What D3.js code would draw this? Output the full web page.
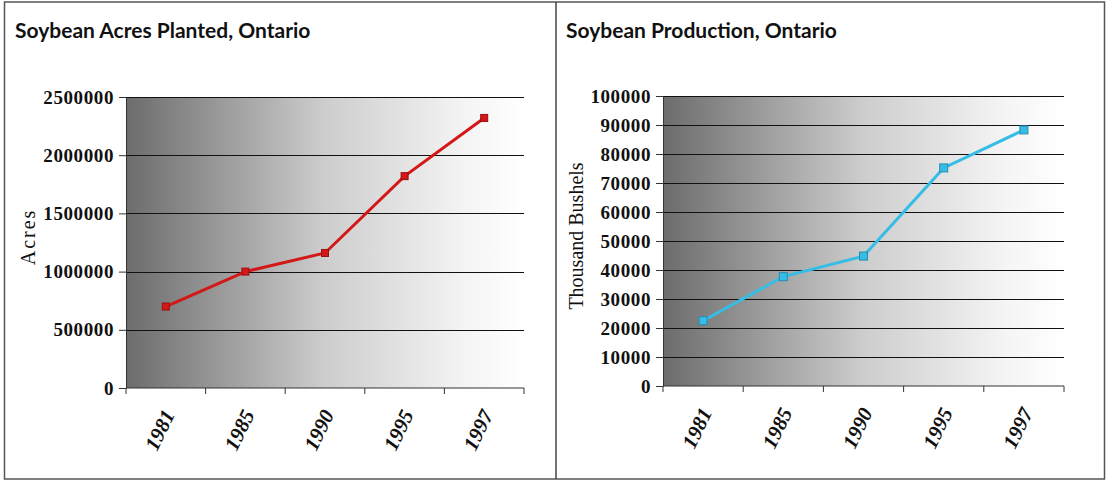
<!DOCTYPE html>
<html>
<head>
<meta charset="utf-8">
<script src="https://cdn.jsdelivr.net/npm/d3@7"></script>
<style>
  body { margin: 0; background: #fff; }
  .tick text { font-family: "Liberation Serif", serif; }
</style>
</head>
<body>
<div id="chart"></div>
<script>
// data
var years = ["1981", "1985", "1990", "1995", "1997"];
var acresPlanted = [700000, 1000000, 1160000, 1820000, 2320000];
var productionBushels = [22500, 37700, 44800, 75200, 88300];
var acresTicks = [0, 500000, 1000000, 1500000, 2000000, 2500000];
var productionTicks = [0, 10000, 20000, 30000, 40000, 50000, 60000, 70000, 80000, 90000, 100000];

var svgWidth = 1107;
var svgHeight = 481;

var svg = d3.select("#chart")
  .append("svg")
  .attr("width", svgWidth)
  .attr("height", svgHeight);

// shared gray gradient for both plot areas
var defs = svg.append("defs");
var grad = defs.append("linearGradient")
  .attr("id", "plotFill")
  .attr("x1", "0%").attr("x2", "100%")
  .attr("y1", "0%").attr("y2", "0%");
grad.append("stop").attr("offset", "0%").attr("stop-color", "#6c6c6c");
grad.append("stop").attr("offset", "50%").attr("stop-color", "#cdcdcd");
grad.append("stop").attr("offset", "85%").attr("stop-color", "#f4f4f4");
grad.append("stop").attr("offset", "100%").attr("stop-color", "#ffffff");

// outer frame and divider
svg.append("rect")
  .attr("x", 4.5).attr("y", 2)
  .attr("width", 1100).attr("height", 477)
  .attr("fill", "none")
  .attr("stroke", "#555")
  .attr("stroke-width", 1.5);

svg.append("line")
  .attr("x1", 556).attr("x2", 556)
  .attr("y1", 2).attr("y2", 479)
  .attr("stroke", "#444")
  .attr("stroke-width", 1.5);

function drawChart(opts) {
  var g = svg.append("g");

  var x = d3.scaleBand()
    .domain(years)
    .range([opts.left, opts.right]);

  var y = d3.scaleLinear()
    .domain([0, opts.max])
    .range([opts.bottom, opts.top]);

  // title
  g.append("text")
    .attr("x", opts.titleX)
    .attr("y", 38)
    .attr("font-family", "Lato, 'Open Sans', sans-serif")
    .attr("font-weight", 700)
    .attr("font-size", 21)
    .attr("fill", "#111")
    .text(opts.title);

  // plot background
  g.append("rect")
    .attr("x", opts.left)
    .attr("y", opts.top)
    .attr("width", opts.right - opts.left)
    .attr("height", opts.bottom - opts.top)
    .attr("fill", "url(#plotFill)");

  // gridlines
  g.selectAll(".grid")
    .data(opts.ticks.slice(1))
    .enter()
    .append("line")
    .attr("x1", opts.left)
    .attr("x2", opts.right)
    .attr("y1", d => Math.round(y(d)) + 0.5)
    .attr("y2", d => Math.round(y(d)) + 0.5)
    .attr("stroke", "#111")
    .attr("stroke-width", 1.2);

  // y axis
  var leftAxis = d3.axisLeft(y)
    .tickValues(opts.ticks)
    .tickFormat(d3.format("d"))
    .tickSizeOuter(0)
    .tickSize(7)
    .tickPadding(5);

  var yAxis = g.append("g")
    .attr("transform", `translate(${opts.left}, 0)`)
    .call(leftAxis);
  yAxis.select(".domain").attr("stroke", "#333");
  yAxis.selectAll(".tick line").attr("stroke", "#333");
  yAxis.selectAll(".tick text")
    .attr("font-size", 19)
    .attr("font-weight", "bold")
    .attr("letter-spacing", 0.6)
    .attr("fill", "#111");

  // x axis with ticks on band edges
  var xAxis = g.append("g")
    .attr("transform", `translate(0, ${opts.bottom})`);
  xAxis.append("line")
    .attr("x1", opts.left).attr("x2", opts.right)
    .attr("y1", 0).attr("y2", 0)
    .attr("stroke", "#333");
  var edges = years.map(d => x(d)).concat([opts.right]);
  xAxis.selectAll(".xtick")
    .data(edges)
    .enter()
    .append("line")
    .attr("x1", d => d).attr("x2", d => d)
    .attr("y1", 0).attr("y2", 6)
    .attr("stroke", "#333");

  xAxis.selectAll(".xlabel")
    .data(years)
    .enter()
    .append("text")
    .attr("transform", d => `translate(${x(d) + x.bandwidth() / 2 + 3}, 23) rotate(-64)`)
    .attr("text-anchor", "end")
    .attr("dy", "0.35em")
    .attr("font-family", "'Liberation Serif', serif")
    .attr("font-style", "italic")
    .attr("font-weight", "bold")
    .attr("font-size", 21)
    .attr("fill", "#111")
    .text(d => d);

  // y axis title
  g.append("text")
    .attr("transform", `translate(${opts.labelX}, ${opts.labelY}) rotate(-90)`)
    .attr("text-anchor", "middle")
    .attr("font-family", "'Liberation Serif', serif")
    .attr("font-size", 20)
    .attr("letter-spacing", opts.labelSpacing)
    .attr("fill", "#111")
    .text(opts.yLabel);

  // series line
  var line = d3.line()
    .x((d, i) => x(years[i]) + x.bandwidth() / 2)
    .y(d => y(d));

  g.append("path")
    .datum(opts.values)
    .attr("fill", "none")
    .attr("stroke", opts.color)
    .attr("stroke-width", 3)
    .attr("d", line);

  g.selectAll(".marker")
    .data(opts.values)
    .enter()
    .append("rect")
    .attr("x", (d, i) => x(years[i]) + x.bandwidth() / 2 - opts.markerSize / 2)
    .attr("y", d => y(d) - opts.markerSize / 2)
    .attr("width", opts.markerSize)
    .attr("height", opts.markerSize)
    .attr("fill", opts.color)
    .attr("stroke", opts.markerStroke)
    .attr("stroke-width", 1);
}

drawChart({
  title: "Soybean Acres Planted, Ontario",
  titleX: 15,
  yLabel: "Acres",
  labelX: 35, labelY: 237, labelSpacing: 2,
  left: 126, right: 524, top: 97, bottom: 388,
  max: 2500000,
  ticks: acresTicks,
  values: acresPlanted,
  color: "#d41717",
  markerStroke: "#9a1010",
  markerSize: 7
});

drawChart({
  title: "Soybean Production, Ontario",
  titleX: 566,
  yLabel: "Thousand Bushels",
  labelX: 583, labelY: 236, labelSpacing: 0,
  left: 663, right: 1064, top: 96, bottom: 386,
  max: 100000,
  ticks: productionTicks,
  values: productionBushels,
  color: "#36bde6",
  markerStroke: "#2a8ab0",
  markerSize: 8
});
</script>
</body>
</html>
